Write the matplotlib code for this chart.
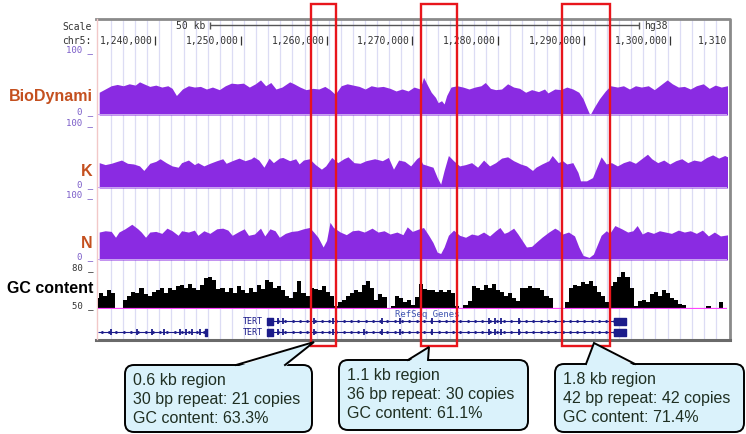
import matplotlib.pyplot as plt
import numpy as np
from matplotlib.patches import FancyBboxPatch, Polygon, Rectangle
from matplotlib.transforms import blended_transform_factory

plt.rcParams['font.family'] = ['Liberation Sans', 'DejaVu Sans']

# genomic window on chr5, in kb
x_start, x_end = 1233.36, 1306.67
ruler_ticks = [1240, 1250, 1260, 1270, 1280, 1290, 1300]

# BioDynami track (0-100)
bio_x = [1233.5, 1234.2, 1234.9, 1235.6, 1236.3, 1237.0, 1237.7, 1238.2, 1238.7, 1239.4,
         1240.1, 1240.8, 1241.5, 1242.0, 1242.5, 1243.2, 1243.9, 1244.6, 1245.3, 1246.0,
         1246.7, 1247.5, 1248.2, 1248.9, 1249.6, 1250.3, 1251.0, 1251.7, 1252.3, 1252.9,
         1253.5, 1254.1, 1254.8, 1255.7, 1256.2, 1256.9, 1257.6, 1258.4, 1259.1, 1259.8,
         1260.4, 1261.0, 1261.7, 1262.4, 1263.1, 1263.8, 1264.5, 1265.2, 1265.9, 1266.6,
         1267.4, 1268.1, 1268.8, 1269.5, 1270.2, 1270.9, 1271.3, 1271.8, 1272.2, 1272.7,
         1273.0, 1273.4, 1273.7, 1274.0, 1274.5, 1275.2, 1275.9, 1276.6, 1277.3, 1278.0,
         1278.5, 1279.1, 1279.7, 1280.4, 1281.1, 1281.8, 1282.5, 1283.2, 1283.9, 1284.7,
         1285.4, 1285.8, 1286.6, 1287.3, 1288.0, 1288.7, 1289.4, 1289.9, 1290.3, 1290.7,
         1291.2, 1291.8, 1292.5, 1293.1, 1293.9, 1294.6, 1295.3, 1296.0, 1296.7, 1297.5,
         1298.2, 1299.1, 1299.7, 1300.3, 1301.0, 1301.7, 1302.4, 1303.1, 1303.9, 1304.6,
         1305.3, 1306.0, 1306.7, 1307.2]
bio_val = [35, 40, 45, 47, 45, 48, 46, 51, 48, 44,
           46, 43, 45, 41, 30, 40, 45, 43, 44, 40,
           43, 39, 45, 49, 48, 49, 43, 48, 54, 45,
           50, 40, 43, 51, 48, 43, 39, 41, 40, 44,
           39, 32, 45, 48, 46, 44, 40, 45, 43, 44,
           41, 37, 40, 37, 43, 40, 58, 45, 35, 27,
           19, 22, 17, 30, 43, 45, 43, 40, 43, 45,
           50, 41, 39, 40, 48, 43, 41, 35, 39, 36,
           40, 34, 40, 39, 43, 40, 35, 25, 12, 0,
           12, 25, 37, 45, 43, 45, 40, 45, 43, 45,
           39, 48, 54, 48, 43, 44, 40, 45, 48, 41,
           46, 43, 45, 41]

# K track (0-100)
k_x = [1233.5, 1234.2, 1234.9, 1235.6, 1236.1, 1236.8, 1237.5, 1238.2, 1238.7, 1239.4,
       1240.1, 1240.6, 1241.3, 1242.0, 1242.7, 1243.1, 1243.9, 1244.6, 1245.0, 1245.7,
       1246.4, 1247.2, 1247.9, 1248.3, 1249.0, 1249.8, 1250.5, 1251.2, 1251.5, 1252.1,
       1252.7, 1253.3, 1253.8, 1254.5, 1254.9, 1255.7, 1256.4, 1256.8, 1257.3, 1258.0,
       1258.7, 1259.4, 1259.9, 1260.6, 1261.3, 1262.0, 1262.5, 1263.2, 1263.9, 1264.6,
       1265.6, 1266.5, 1267.2, 1267.8, 1268.4, 1269.1, 1269.8, 1270.5, 1270.8, 1271.2,
       1271.9, 1272.4, 1272.9, 1273.3, 1273.7, 1274.2, 1274.8, 1275.5, 1276.2, 1276.9,
       1277.6, 1278.3, 1279.0, 1279.7, 1280.4, 1281.1, 1281.8, 1282.6, 1283.3, 1284.0,
       1284.4, 1285.1, 1285.9, 1286.3, 1287.0, 1287.5, 1288.0, 1288.7, 1289.3, 1289.6,
       1290.3, 1291.0, 1291.5, 1292.0, 1292.6, 1293.2, 1293.9, 1294.6, 1295.3, 1296.0,
       1296.7, 1297.4, 1297.9, 1298.6, 1299.3, 1300.0, 1300.7, 1301.4, 1302.1, 1302.8,
       1303.6, 1304.3, 1305.0, 1305.7, 1306.4, 1306.9]
k_val = [39, 36, 38, 41, 43, 38, 37, 34, 27, 38,
         41, 45, 39, 34, 32, 39, 43, 36, 39, 34,
         38, 42, 45, 38, 42, 46, 42, 45, 48, 43,
         32, 46, 39, 46, 47, 42, 45, 37, 43, 45,
         36, 29, 34, 47, 39, 45, 48, 39, 38, 42,
         45, 42, 47, 29, 43, 41, 34, 45, 48, 37,
         34, 32, 16, 6, 27, 50, 42, 34, 36, 39,
         32, 43, 34, 39, 46, 48, 42, 37, 34, 27,
         32, 37, 42, 50, 39, 42, 37, 39, 24, 11,
         11, 16, 32, 48, 37, 39, 34, 39, 42, 38,
         45, 52, 45, 39, 43, 37, 42, 45, 39, 43,
         41, 47, 51, 46, 50, 47]

# N track (0-100)
n_x = [1233.5, 1234.2, 1234.9, 1235.4, 1235.8, 1236.5, 1237.3, 1238.0, 1238.4, 1238.9,
       1239.4, 1240.1, 1240.8, 1241.4, 1242.0, 1242.7, 1243.1, 1243.9, 1244.6, 1245.0,
       1245.7, 1246.4, 1247.2, 1247.9, 1248.5, 1249.0, 1249.8, 1250.4, 1250.9, 1251.6,
       1252.3, 1252.8, 1253.4, 1254.0, 1254.5, 1255.2, 1255.9, 1256.6, 1257.3, 1258.0,
       1258.5, 1259.0, 1259.6, 1260.0, 1260.4, 1260.8, 1261.6, 1262.3, 1263.0, 1263.7,
       1264.4, 1265.3, 1266.0, 1266.7, 1267.4, 1268.2, 1268.9, 1269.4, 1270.0, 1270.8,
       1271.3, 1271.9, 1272.4, 1272.9, 1273.3, 1273.7, 1274.2, 1274.8, 1275.5, 1276.2,
       1276.9, 1277.6, 1278.3, 1279.0, 1279.7, 1280.2, 1280.7, 1281.1, 1281.8, 1282.3,
       1282.8, 1283.3, 1283.9, 1284.4, 1285.1, 1285.9, 1286.6, 1287.0, 1287.5, 1288.2,
       1288.9, 1289.4, 1289.9, 1290.6, 1291.1, 1291.6, 1292.0, 1292.6, 1293.0, 1293.6,
       1294.4, 1295.1, 1295.7, 1296.2, 1296.8, 1297.4, 1298.1, 1298.8, 1299.5, 1300.2,
       1301.0, 1301.7, 1302.4, 1303.1, 1303.8, 1304.5, 1305.2, 1305.9, 1306.9]
n_val = [43, 45, 44, 35, 43, 48, 55, 48, 43, 35,
         43, 44, 41, 49, 45, 38, 45, 43, 46, 38,
         45, 41, 48, 49, 46, 38, 44, 48, 38, 40,
         49, 37, 48, 45, 35, 41, 44, 45, 48, 50,
         43, 35, 20, 30, 58, 50, 43, 39, 45, 46,
         43, 49, 43, 45, 40, 43, 39, 51, 44, 48,
         50, 38, 27, 12, 10, 20, 38, 46, 38, 35,
         40, 38, 43, 37, 45, 50, 41, 43, 49, 40,
         30, 20, 21, 27, 35, 43, 49, 46, 40, 43,
         37, 20, 7, 4, 9, 25, 38, 45, 41, 53,
         48, 43, 45, 53, 40, 44, 41, 45, 43, 41,
         46, 43, 45, 41, 46, 37, 43, 37, 39]

# GC content (%), one bin every 0.472 kb starting at 1233.24 kb
gc_start, gc_step = 1233.24, 0.472
gc_pct = [58, 62, 60, 64, 62, 50, 50, 57, 60, 63,
          62, 66, 61, 60, 63, 64, 66, 62, 66, 64,
          67, 68, 66, 69, 66, 64, 68, 73, 74, 72,
          65, 66, 63, 66, 62, 67, 64, 62, 66, 63,
          68, 65, 72, 70, 66, 67, 64, 60, 58, 63,
          71, 62, 60, 66, 65, 64, 67, 63, 60, 52,
          55, 57, 60, 62, 64, 63, 68, 71, 66, 57,
          61, 59, 50, 52, 60, 58, 55, 57, 53, 59,
          69, 65, 64, 64, 63, 64, 63, 64, 62, 52,
          51, 53, 56, 67, 66, 64, 68, 66, 69, 64,
          63, 60, 62, 58, 56, 66, 66, 67, 66, 66,
          64, 60, 58, 50, 50, 51, 55, 66, 68, 67,
          70, 69, 71, 67, 63, 60, 55, 67, 70, 74,
          78, 74, 66, 52, 56, 57, 55, 61, 63, 60,
          64, 62, 58, 57, 54, 53, 50, 50, 50, 50,
          51, 52, 50, 50, 55, 50, 50]

# RefSeq genes
tert_span = (1253.1, 1294.9)
tert_blocks = [(1253.1, 0.7), (1293.5, 1.4)]
tert_exons_a = [1254.3, 1254.9, 1258.5, 1260.7, 1266.5, 1268.5, 1272.3, 1278.9, 1279.6, 1280.3, 1282.4]
tert_exons_b = [1254.3, 1254.9, 1258.5, 1260.7, 1264.4, 1266.5, 1268.5, 1272.3, 1278.9, 1279.6, 1280.3, 1282.4]
left_span = (1233.4, 1246.1)
left_exons = [1234.85, 1237.9, 1239.65, 1241.05, 1242.9, 1243.6, 1244.3, 1245.3]
left_blocks = [(1245.85, 0.25)]

# highlighted regions and callout texts
regions = [(1258.2, 1261.1), (1271.0, 1275.2), (1287.4, 1293.0)]
notes = [['0.6 kb region', '30 bp repeat: 21 copies', 'GC content: 63.3%'],
         ['1.1 kb region', '36 bp repeat: 30 copies', 'GC content: 61.1%'],
         ['1.8 kb region', '42 bp repeat: 42 copies', 'GC content: 71.4%']]

purple = '#8a2be2'
label_col = '#c4501f'
navy = '#1c1c8a'
mono = 'DejaVu Sans Mono'

W, H = 746, 435
fig = plt.figure(figsize=(W / 100, H / 100), dpi=100)


def px_axes(x0, y0, x1, y1, z):
    ax = fig.add_axes([x0 / W, 1 - y1 / H, (x1 - x0) / W, (y1 - y0) / H], zorder=z)
    ax.set_facecolor('none')
    ax.set_axis_off()
    return ax


bg = px_axes(0, 0, W, H, 0)
bg.set_xlim(0, W)
bg.set_ylim(H, 0)
fg = px_axes(0, 0, W, H, 10)
fg.set_xlim(0, W)
fg.set_ylim(H, 0)

# browser guide lines and frame
bg.vlines(np.arange(111, 727, 12.1), 20, 340, color='#dcdcf4', lw=0.9)
bg.plot([96, 730, 730], [20, 20, 341], color='#8a8a8a', lw=2)
bg.plot([96, 730], [341, 341], color='#6a6a6a', lw=2.2)
bg.plot([97, 97], [20, 340], color='#f2c8c8', lw=1)

# ruler
ruler = px_axes(98, 18, 727, 48, 5)
ruler.set_xlim(x_start, x_end)
ruler.set_ylim(48, 18)
for t in ruler_ticks:
    ruler.text(t - 0.25, 41, f'{t * 1000:,}', ha='right', va='center', family=mono, fontsize=7, color='#333333')
ruler.vlines(ruler_ticks, 36.5, 45.5, color='#333333', lw=0.9)
ruler.text(x_end, 41, '1,310', ha='right', va='center', family=mono, fontsize=7, color='#333333')
scale_left = 1246.4
ruler.hlines(26, scale_left, scale_left + 50, color='#555555', lw=1)
ruler.vlines([scale_left, scale_left + 50], 22.5, 29.5, color='#555555', lw=1)
ruler.text(scale_left - 0.5, 26, '50 kb', ha='right', va='center', family=mono, fontsize=7, color='#333333')
ruler.text(scale_left + 50.6, 26, 'hg38', ha='left', va='center', family=mono, fontsize=7, color='#333333')
fg.text(62, 27, 'Scale', ha='left', va='center', family=mono, fontsize=7, color='#333333')
fg.text(62, 41, 'chr5:', ha='left', va='center', family=mono, fontsize=7, color='#333333')

# signal tracks
tracks = [('BioDynami', bio_x, bio_val, 51, 116, 96),
          ('K', k_x, k_val, 124, 189, 172),
          ('N', n_x, n_val, 196, 261, 244)]
for name, xs, vals, top, bottom, label_y in tracks:
    ax = px_axes(98, top, 727, bottom, 5)
    ax.set_xlim(x_start, x_end)
    ax.set_ylim(0, 100)
    ax.fill_between(xs, 0, vals, color=purple, lw=0)
    ax.axhline(0, color='#c9a6f2', lw=1.4)
    fg.text(93, label_y, name, ha='right', va='center', fontsize=11.5, fontweight='bold', color=label_col)
    fg.text(93, top - 1, '100 _', ha='right', va='center', family=mono, fontsize=6.5, color='#7a5cc8')
    fg.text(93, bottom - 4, '0 _', ha='right', va='center', family=mono, fontsize=6.5, color='#7a5cc8')

# GC content track
gc_ax = px_axes(98, 270, 727, 310, 5)
gc_ax.set_xlim(x_start, x_end)
gc_ax.set_ylim(50, 80)
gc_x = gc_start + gc_step * np.arange(len(gc_pct))
gc_ax.bar(gc_x, np.array(gc_pct) - 50, bottom=50, width=gc_step, color='black', lw=0)
gc_ax.axhline(50, color='#ff44ff', lw=1.6)
fg.text(93, 289, 'GC content', ha='right', va='center', fontsize=11.5, fontweight='bold', color='black')
fg.text(93, 268, '80 _', ha='right', va='center', family=mono, fontsize=6.5, color='#333333')
fg.text(93, 306, '50 _', ha='right', va='center', family=mono, fontsize=6.5, color='#333333')

# RefSeq genes
genes = px_axes(98, 311, 727, 341, 5)
genes.set_xlim(x_start, x_end)
genes.set_ylim(341, 311)
genes.text(1271.7, 314.5, 'RefSeq Genes', ha='center', va='center', family=mono, fontsize=6.5, color='#3f55b0')
arrows_tert = np.arange(tert_span[0] + 0.4, tert_span[1], 0.85)
for y, exons in [(322, tert_exons_a), (333, tert_exons_b)]:
    genes.hlines(y, *tert_span, color=navy, lw=0.8)
    genes.plot(arrows_tert, np.full(len(arrows_tert), y), ls='none', marker=(3, 0, 90), ms=1.6, color=navy)
    genes.vlines(exons, y - 3, y + 3, color=navy, lw=1.3)
    genes.broken_barh(tert_blocks, (y - 3.5, 7), color=navy)
    genes.text(1252.6, y, 'TERT', ha='right', va='center', family=mono, fontsize=6, color=navy)
genes.hlines(333, *left_span, color=navy, lw=0.8)
arrows_left = np.arange(left_span[0] + 0.4, left_span[1], 0.85)
genes.plot(arrows_left, np.full(len(arrows_left), 333), ls='none', marker=(3, 0, 270), ms=1.6, color=navy)
genes.vlines(left_exons, 330, 336, color=navy, lw=1.3)
genes.broken_barh(left_blocks, (329.5, 7), color=navy)

# highlighted regions (red boxes)
blend = blended_transform_factory(genes.transData, fg.transData)
for x0, x1 in regions:
    fg.add_patch(Rectangle((x0, 5), x1 - x0, 342, transform=blend, fill=False, ec='#e8151b', lw=1.7))

# callouts
fill = '#daf2fb'
boxes = [((125, 366, 312, 433), (236, 285), (314, 343)),
         ((339, 361, 528, 431), (408, 428), (429, 348)),
         ((555, 365, 744, 433), (586, 635), (594, 344))]
for (x0, y0, x1, y1), base, tip, lines in [(b[0], b[1], b[2], n) for b, n in zip(boxes, notes)]:
    fg.add_patch(FancyBboxPatch((x0, y0), x1 - x0, y1 - y0, boxstyle='round,pad=0,rounding_size=9',
                                fc=fill, ec='black', lw=1.4))
    fg.add_patch(Polygon([(base[0], y0 + 2), tip, (base[1], y0 + 2)], closed=True, fc=fill, ec='none'))
    fg.plot([base[0], tip[0], base[1]], [y0, tip[1], y0], color='black', lw=1.4, solid_joinstyle='miter')
    for i, line in enumerate(lines):
        fg.text(x0 + 8, y0 + 15 + i * 19, line, ha='left', va='center', fontsize=11.5, color='#1f2f22')

fig.savefig('out.png', dpi=100)
